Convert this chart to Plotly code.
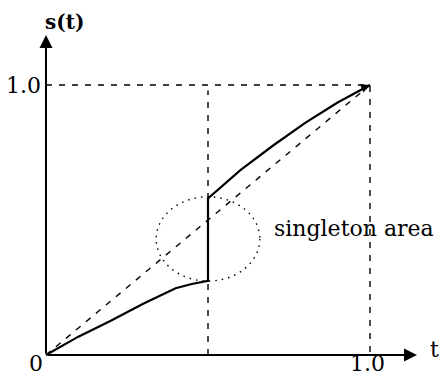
import plotly.graph_objects as go

# s(t) before and after the jump at t = 0.5
t_low = [0.0, 0.1, 0.2, 0.3, 0.4, 0.45, 0.5]
s_low = [0.0, 0.068, 0.127, 0.19, 0.247, 0.263, 0.275]
t_high = [0.5, 0.6, 0.7, 0.8, 0.9, 1.0]
s_high = [0.58, 0.685, 0.775, 0.86, 0.935, 1.0]
t_jump = 0.5

FONT = "DejaVu Serif"
BLACK = "#000000"
DASH = "6px,7px"

fig = go.Figure()

# identity reference line s = t
fig.add_trace(go.Scatter(x=[0, 1], y=[0, 1], mode="lines",
                         line=dict(color=BLACK, width=1.4, dash=DASH), hoverinfo="skip"))
# guide lines at s = 1, t = 1 and t = 0.5
fig.add_trace(go.Scatter(x=[0, 1, 1], y=[1, 1, 0], mode="lines",
                         line=dict(color=BLACK, width=1.4, dash=DASH), hoverinfo="skip"))
fig.add_trace(go.Scatter(x=[t_jump, t_jump], y=[0, 0.98], mode="lines",
                         line=dict(color=BLACK, width=1.4, dash=DASH), hoverinfo="skip"))

# the mapping itself, including the vertical jump
fig.add_trace(go.Scatter(x=t_low + t_high, y=s_low + s_high, mode="lines",
                         line=dict(color=BLACK, width=2.2), hoverinfo="skip"))

# dotted ellipse around the jump
fig.add_shape(type="circle", xref="x", yref="y",
              x0=t_jump - 0.16, x1=t_jump + 0.16, y0=0.43 - 0.156, y1=0.43 + 0.156,
              line=dict(color=BLACK, width=1.4, dash="1.5px,5px"))

# axes with arrowheads
fig.add_annotation(x=0, y=1.185, ax=0, ay=0, xref="x", yref="y", axref="x", ayref="y",
                   showarrow=True, arrowhead=2, arrowsize=1.3, arrowwidth=2, arrowcolor=BLACK, text="")
fig.add_annotation(x=1.145, y=0, ax=0, ay=0, xref="x", yref="y", axref="x", ayref="y",
                   showarrow=True, arrowhead=2, arrowsize=1.3, arrowwidth=2, arrowcolor=BLACK, text="")
# small arrowhead at the end of the curve
fig.add_annotation(x=1.0, y=1.0, ax=0.97, ay=0.985, xref="x", yref="y", axref="x", ayref="y",
                   showarrow=True, arrowhead=2, arrowsize=1.2, arrowwidth=1.5, arrowcolor=BLACK, text="")

def label(text, x, y, size=22, bold=False):
    fig.add_annotation(x=x, y=y, xref="x", yref="y", text=("<b>%s</b>" % text) if bold else text,
                       showarrow=False, font=dict(family=FONT, size=size, color=BLACK))

label("s(t)", 0.0556, 1.233, size=20, bold=True)
label("1.0", -0.069, 1.0)
label("0", -0.031, -0.03)
label("1.0", 0.991, -0.03)
label("t", 1.198, 0.02)
label("singleton area", 0.951, 0.47, size=22)

fig.update_layout(
    width=441, height=375,
    margin=dict(l=0, r=0, t=0, b=0),
    paper_bgcolor="white", plot_bgcolor="white",
    showlegend=False,
    xaxis=dict(range=[-46 / 324, 395 / 324], visible=False, fixedrange=True),
    yaxis=dict(range=[-20 / 270, 355 / 270], visible=False, fixedrange=True),
)

fig.write_html("out.html")
